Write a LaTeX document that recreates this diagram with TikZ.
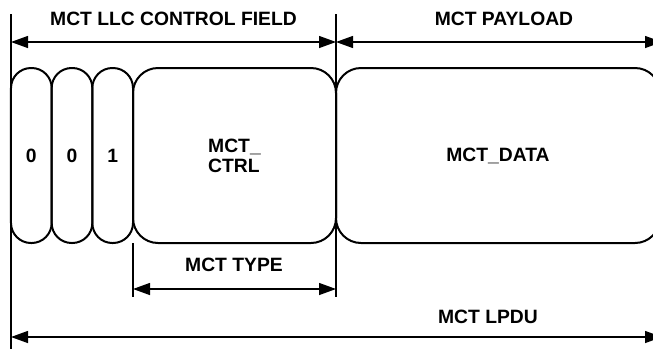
\documentclass[tikz,border=0pt]{standalone}
\usepackage{fontspec}
\setmainfont{Liberation Sans}
\usetikzlibrary{arrows.meta}

\begin{document}
\begin{tikzpicture}[
    x=1pt, y=-1pt,
    every node/.style={font=\fontsize{19.3}{20}\selectfont\bfseries},
    field/.style={draw,line width=2pt,rounded corners=25pt,minimum height=175pt,inner sep=0pt},
    bit/.style={field,rounded corners=20pt,minimum width=40.67pt},
    guide/.style={line width=1.1pt},
    span/.style={{Triangle[length=17pt,width=12pt]}-{Triangle[length=17pt,width=12pt]},line width=1.3pt}
]
\useasboundingbox (0,0) rectangle (653,349);

% Bits and fields of the frame
\node[bit] (B1) at (31.33,155.5) {0};
\node[bit] (B2) at (72,155.5) {0};
\node[bit] (B3) at (112.67,155.5) {1};
\node[field,minimum width=203pt,align=left] (CTRL) at (234.5,155.5) {MCT\_\\CTRL};
\node[field,minimum width=324pt] (DATA) at (498,155.5) {MCT\_DATA};

% Guide lines
\coordinate (G1top) at (11,14);
\coordinate (G1bot) at (11,349);
\coordinate (G2top) at (336,14);
\coordinate (G2bot) at (336,297);
\coordinate (G3top) at (133,243);
\coordinate (G3bot) at (133,297);
\draw[guide] (G1top) -- (G1bot);
\draw[guide] (G2top) -- (G2bot);
\draw[guide] (G3top) -- (G3bot);

% Span arrows
\coordinate (LLCa) at (11,42);
\coordinate (LLCb) at (336,42);
\coordinate (PAYa) at (336,42);
\coordinate (PAYb) at (662,42);
\coordinate (TYPa) at (133,289);
\coordinate (TYPb) at (336,289);
\coordinate (LPDa) at (11,337);
\coordinate (LPDb) at (662,337);
\draw[span] (LLCa) -- (LLCb);
\draw[span] (PAYa) -- (PAYb);
\draw[span] (TYPa) -- (TYPb);
\draw[span] (LPDa) -- (LPDb);

% Labels
\node (LLC) at (173.5,18.5) {MCT LLC CONTROL FIELD};
\node (PAY) at (504,18.5) {MCT PAYLOAD};
\node (TYP) at (234,265) {MCT TYPE};
\node (LPD) at (488,316.5) {MCT LPDU};
\end{tikzpicture}
\end{document}
